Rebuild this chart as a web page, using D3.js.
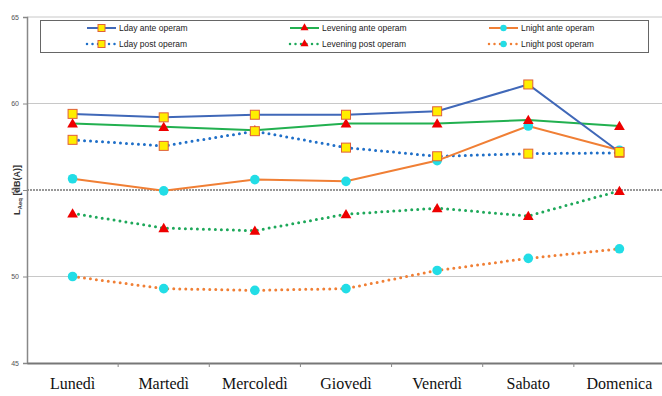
<!DOCTYPE html>
<html><head><meta charset="utf-8">
<script src="https://cdn.jsdelivr.net/npm/d3@7"></script>
<style>body{margin:0;background:#fff}svg{display:block}</style>
</head><body>
<svg id="c" width="662" height="396"></svg>
<script>
const days = ["Lunedì","Martedì","Mercoledì","Giovedì","Venerdì","Sabato","Domenica"];
const yTicks = [45,50,55,60,65];
const ldayAnte      = [59.4,59.2,59.35,59.35,59.55,61.1,57.2];
const leveningAnte  = [58.85,58.65,58.45,58.85,58.85,59.05,58.7];
const lnightAnte    = [55.65,54.95,55.6,55.5,56.7,58.7,57.3];
const ldayPost      = [57.9,57.55,58.4,57.45,56.95,57.1,57.15];
const leveningPost  = [53.65,52.8,52.65,53.6,53.95,53.5,54.95];
const lnightPost    = [50.0,49.3,49.2,49.3,50.35,51.05,51.6];
const seriesNames = ["Lday ante operam","Levening ante operam","Lnight ante operam",
                     "Lday post operam","Levening post operam","Lnight post operam"];

(function(){
const svg = d3.select("#c");
const mL = 27, mR = 665, mT = 17, mB = 363;
const x = d3.scaleBand().domain(days).range([mL, mR]);
const y = d3.scaleLinear().domain([45,65]).range([mB, mT]);

svg.append("g").selectAll("line").data([50,60,65]).join("line")
  .attr("x1", mL).attr("x2", 662).attr("y1", d=>y(d)).attr("y2", d=>y(d))
  .attr("stroke", "#c8c8c8").attr("stroke-width", 1);
svg.append("line").attr("x1", mL).attr("x2", 662).attr("y1", y(55)).attr("y2", y(55))
  .attr("stroke", "#333").attr("stroke-width", 1.2).attr("stroke-dasharray", "2 1");

const yAxis = d3.axisLeft(y).tickValues(yTicks).tickSize(4).tickPadding(4);
const gy = svg.append("g").attr("transform", `translate(${mL},0)`).call(yAxis);
gy.select(".domain").attr("stroke", "#888").attr("stroke-width", 1.5);
gy.selectAll(".tick line").attr("stroke", "#888");
gy.selectAll(".tick text").attr("font-family", "Arial, Liberation Sans, sans-serif")
  .attr("font-size", 7).attr("fill", "#555");

const xAxis = d3.axisBottom(x).tickSize(0).tickPadding(13);
const gx = svg.append("g").attr("transform", `translate(0,${mB})`).call(xAxis);
gx.select(".domain").attr("stroke", "#777").attr("stroke-width", 2);
gx.selectAll(".tick text").attr("font-family", "Liberation Serif, Times New Roman, serif")
  .attr("font-size", 16).attr("fill", "#111").attr("dy", "0.8em");
svg.append("g").selectAll("line").data(days.slice(1)).join("line")
  .attr("x1", d=>x(d)).attr("x2", d=>x(d)).attr("y1", mB).attr("y2", mB+4)
  .attr("stroke", "#888");

const yt = svg.append("text").attr("transform", `translate(20,${y(55)}) rotate(-90)`)
  .attr("text-anchor", "middle").attr("font-family", "Arial, Liberation Sans, sans-serif")
  .attr("font-size", 9).attr("font-weight", "bold").attr("fill", "#333");
yt.append("tspan").text("L");
yt.append("tspan").attr("font-size", 6).attr("dy", 2).text("Aeq");
yt.append("tspan").attr("dy", -2).text(" [dB(A)]");

const blue = "#4068b8", green = "#22b050", orange = "#f07f35";
const styles = [
  {data: ldayAnte, color: blue, dotted: false, marker: "square"},
  {data: leveningAnte, color: green, dotted: false, marker: "triangle"},
  {data: lnightAnte, color: orange, dotted: false, marker: "circle"},
  {data: ldayPost, color: "#1f6fc8", dotted: true, marker: "square"},
  {data: leveningPost, color: "#1ea85a", dotted: true, marker: "triangle"},
  {data: lnightPost, color: orange, dotted: true, marker: "circle"}
];
const cx = d => x(d) + x.bandwidth()/2;
const line = d3.line().x((d,i)=>cx(days[i])).y(d=>y(d));

function drawMarker(g, type, px, py) {
  if (type === "square") {
    g.append("rect").attr("x", px-4.5).attr("y", py-4.5).attr("width", 9).attr("height", 9)
      .attr("fill", "#ffee00").attr("stroke", "#e0603a").attr("stroke-width", 1);
  } else if (type === "triangle") {
    g.append("path").attr("d", d3.symbol(d3.symbolTriangle, 50)())
      .attr("transform", `translate(${px},${py+1})`).attr("fill", "#ee0000");
  } else {
    g.append("circle").attr("cx", px).attr("cy", py).attr("r", 4.8).attr("fill", "#22dde6");
  }
}

[5,4,3,2,1,0].forEach(k => {
  const s = styles[k];
  const p = svg.append("path").datum(s.data).attr("d", line).attr("fill", "none")
    .attr("stroke", s.color);
  if (s.dotted) p.attr("stroke-width", 3).attr("stroke-linecap", "round").attr("stroke-dasharray", "0 6");
  else p.attr("stroke-width", 2);
});
// markers: circles, then triangles, then squares on top
[5,2,4,1,3,0].forEach(k => {
  const s = styles[k];
  const g = svg.append("g");
  s.data.forEach((v,i) => drawMarker(g, s.marker, cx(days[i]), y(v)));
});

const lg = svg.append("g");
lg.append("rect").attr("x", 40.5).attr("y", 20.5).attr("width", 608).attr("height", 32)
  .attr("fill", "#fff").attr("stroke", "#666").attr("stroke-width", 1);
const colX = [87, 290, 489];
const rowY = [28, 44];
styles.forEach((s,k) => {
  const col = k % 3, row = Math.floor(k/3);
  const x0 = colX[col], yy = rowY[row];
  const l = lg.append("line").attr("x1", x0).attr("x2", x0+29).attr("y1", yy).attr("y2", yy)
    .attr("stroke", s.color);
  if (s.dotted) l.attr("stroke-width", 2.5).attr("stroke-linecap", "round").attr("stroke-dasharray", "0 5.5");
  else l.attr("stroke-width", 2);
  const g = lg.append("g");
  if (s.marker === "square") {
    g.append("rect").attr("x", x0+11).attr("y", yy-3.5).attr("width", 7).attr("height", 7)
      .attr("fill", "#ffee00").attr("stroke", "#e0603a").attr("stroke-width", 1);
  } else if (s.marker === "triangle") {
    g.append("path").attr("d", d3.symbol(d3.symbolTriangle, 28)())
      .attr("transform", `translate(${x0+14.5},${yy})`).attr("fill", "#ee0000");
  } else {
    g.append("circle").attr("cx", x0+14.5).attr("cy", yy).attr("r", 3.2).attr("fill", "#22dde6");
  }
  lg.append("text").attr("x", x0+32).attr("y", yy).attr("dy", "0.35em")
    .attr("font-family", "Arial, Liberation Sans, sans-serif").attr("font-size", 8.5)
    .attr("fill", "#222").text(seriesNames[k]);
});
})();
</script>
</body></html>
